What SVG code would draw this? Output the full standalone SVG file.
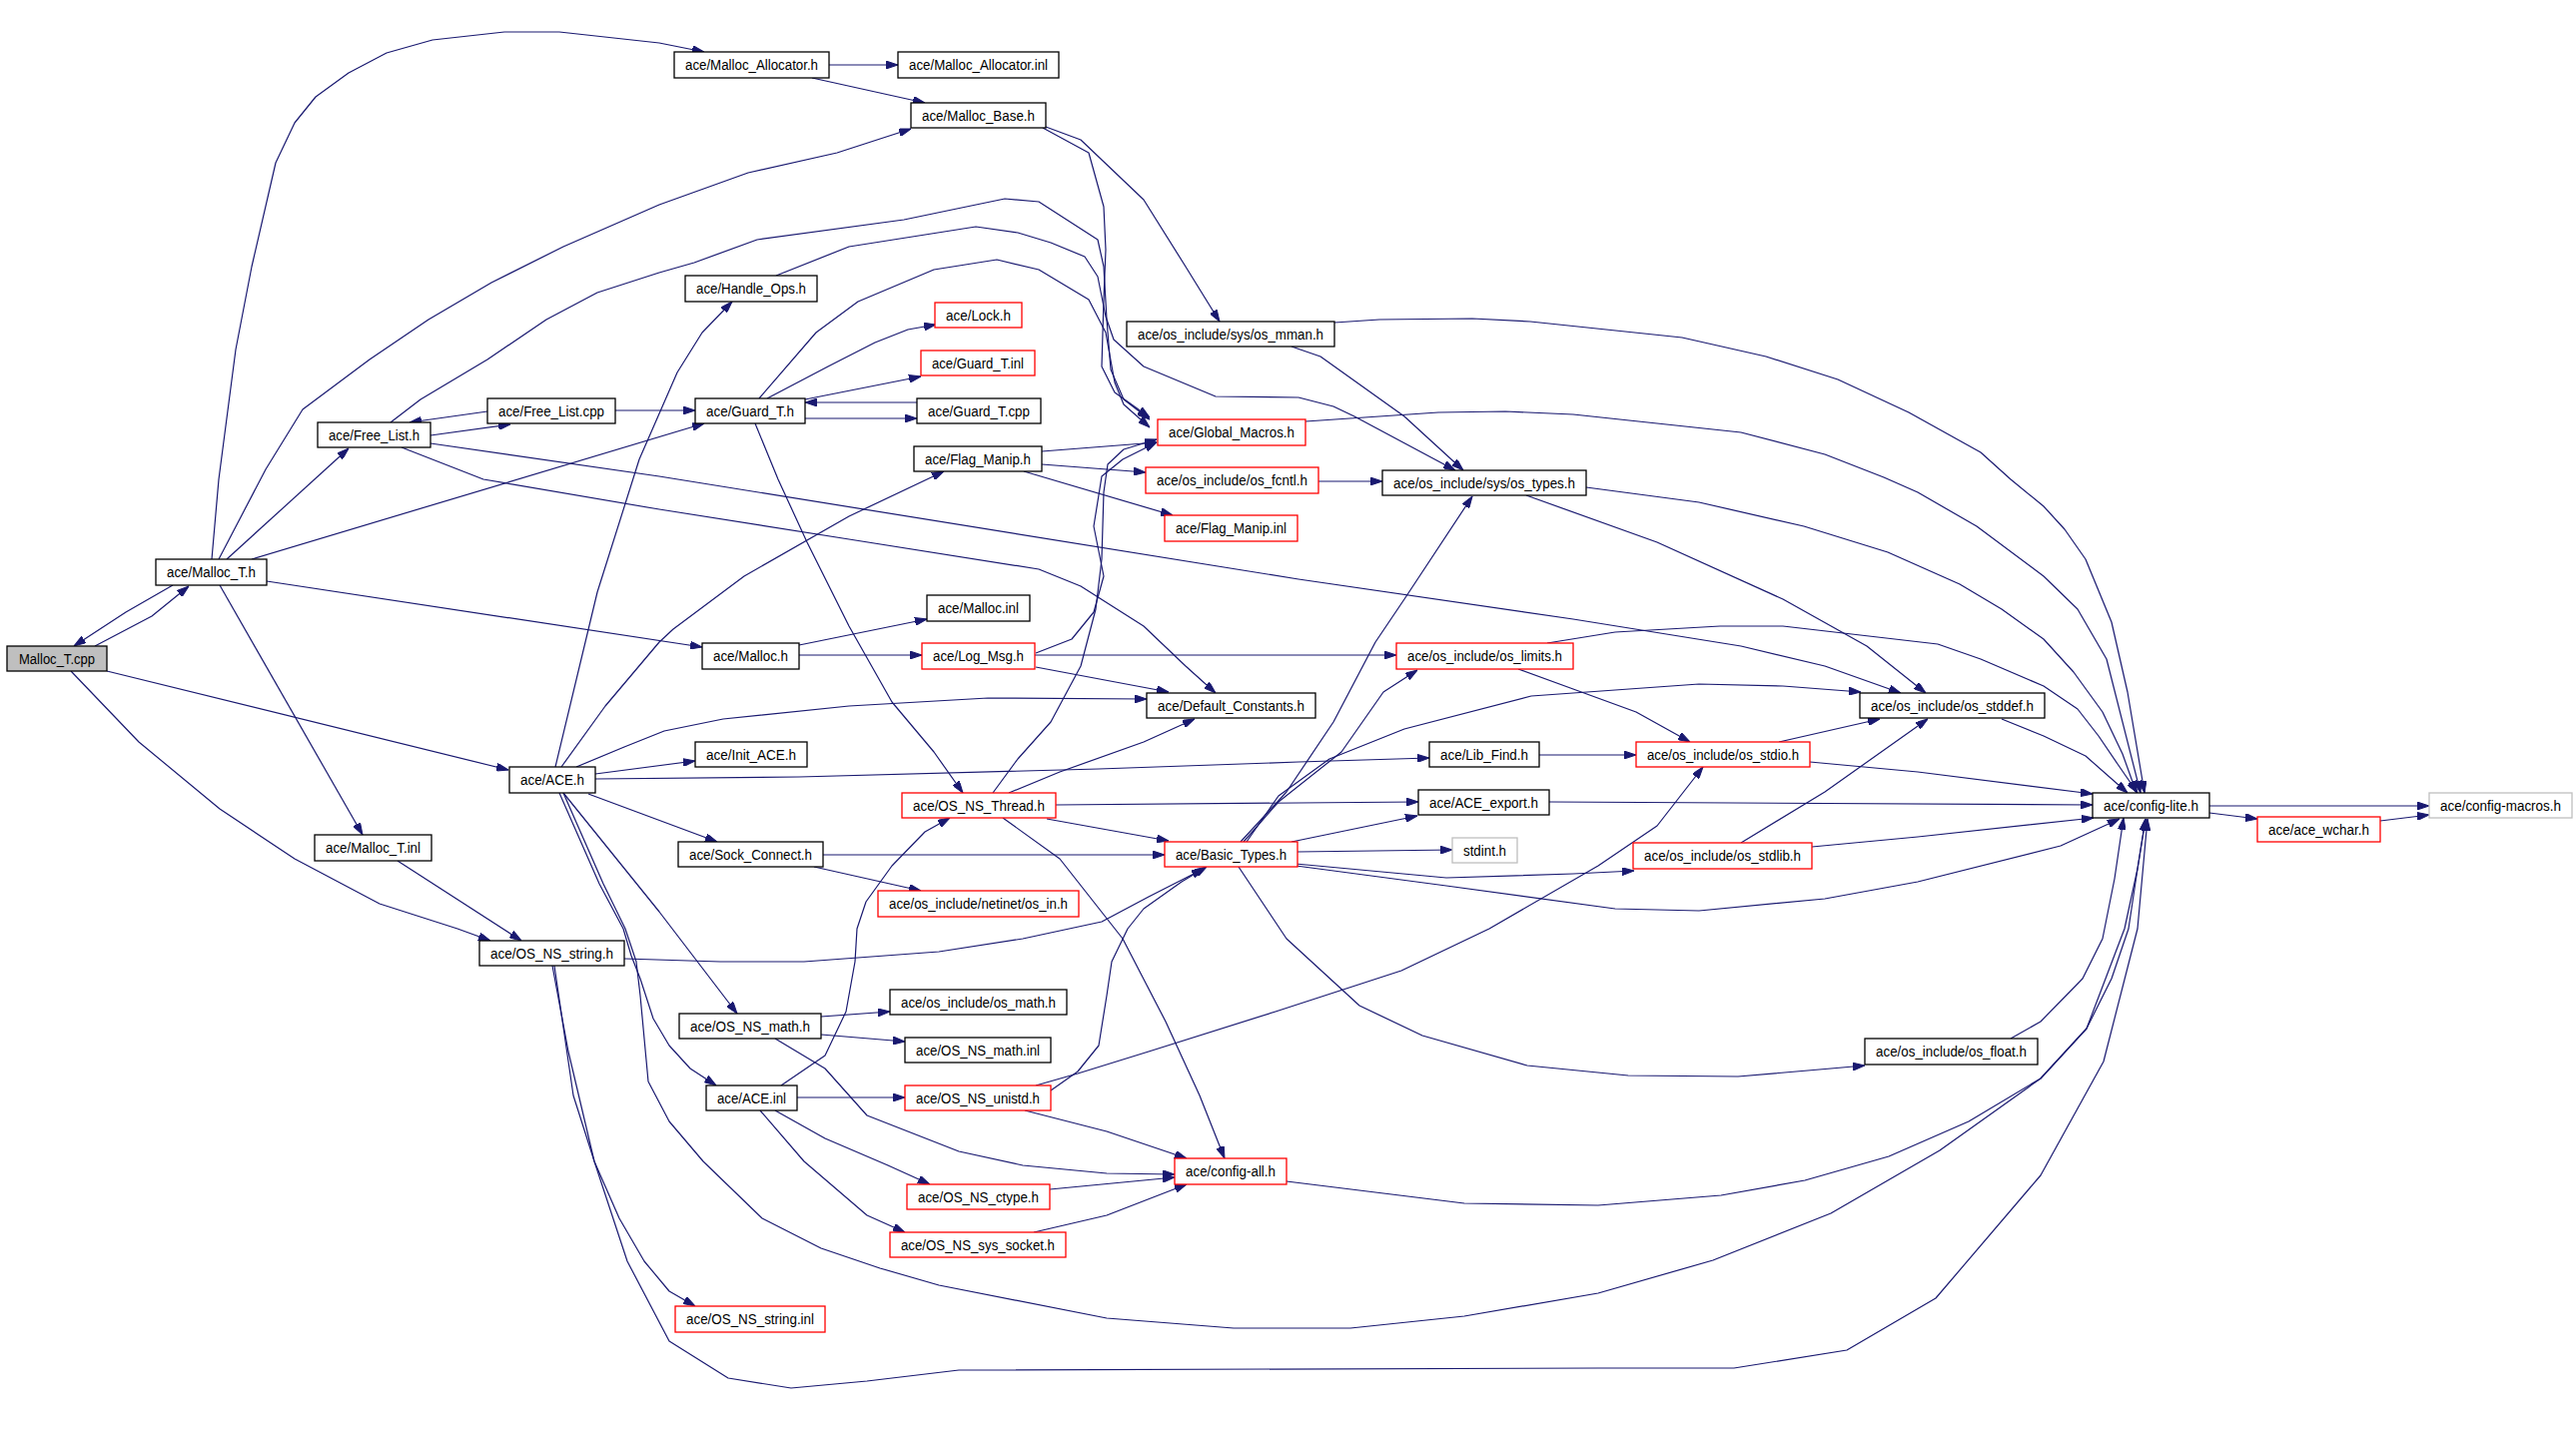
<svg xmlns="http://www.w3.org/2000/svg" width="2579" height="1435" viewBox="0 0 2579 1435">
<style>
.node rect{fill:#ffffff;stroke:#000000;stroke-width:1.3}
.node rect.red{stroke:#ff0000}
.node rect.gray{stroke:#bfbfbf}
.node rect.root{fill:#bfbfbf}
.node text{font-family:"Liberation Sans",Arial,sans-serif;font-size:14px;fill:#000000;text-anchor:middle}
#edges path{fill:none;stroke:#191970;stroke-width:1.2;stroke-linejoin:round;marker-end:url(#arr)}
</style>
<defs>
<marker id="arr" viewBox="0 0 12 8" refX="12" refY="4" markerWidth="12" markerHeight="8" markerUnits="userSpaceOnUse" orient="auto">
<path d="M0,0 L12,4 L0,8 z" fill="#191970" stroke="#191970" stroke-width="1"/>
</marker>
</defs>
<rect width="2579" height="1435" fill="#ffffff"/>
<g id="edges">
<path d="M95,647 L152,617 L189,587"/>
<path d="M173,586 L126,613 L74,647"/>
<path d="M107,672 L509,771"/>
<path d="M71,672 L139,743 L220,810 L295,860 L380,905 L458,930 L491,942"/>
<path d="M212,560 L219,480 L236,350 L252,267 L276,163 L295,123 L316,97 L349,73 L387,53 L433,40 L505,32 L560,32 L660,43 L705,52"/>
<path d="M219,560 L266,470 L303,410 L370,360 L429,320 L492,283 L564,247 L660,205 L749,173 L838,153 L912,129"/>
<path d="M227,560 L349,449"/>
<path d="M252,560 L705,424"/>
<path d="M267,582 L703,648"/>
<path d="M220,586 L363,836"/>
<path d="M830,65 L899,65"/>
<path d="M813,78 L926,103"/>
<path d="M1047,127 L1082,140 L1145,200 L1187,267 L1221,322"/>
<path d="M1044,128 L1090,153 L1105,207 L1107,250 L1105,300 L1103,367 L1116,393 L1151,418"/>
<path d="M391,423 L421,400 L488,360 L547,320 L598,293 L660,273 L695,263 L758,240 L905,220 L1006,199 L1040,202 L1099,240 L1105,267 L1108,320 L1112,370 L1125,400 L1151,420"/>
<path d="M777,276 L850,247 L977,227 L1019,233 L1052,243 L1086,257 L1099,277 L1107,317 L1115,340 L1145,367 L1217,397 L1300,398 L1335,407 L1356,417 L1457,471"/>
<path d="M760,399 L817,333 L859,302 L935,270 L998,260 L1040,270 L1090,300 L1107,333 L1116,383 L1125,405 L1151,428"/>
<path d="M756,424 L779,480 L808,543 L850,627 L893,703 L935,753 L964,794"/>
<path d="M768,399 L829,367 L876,343 L909,330 L937,325"/>
<path d="M806,400 L922,377"/>
<path d="M918,403 L806,403"/>
<path d="M806,419 L918,419"/>
<path d="M616,411 L696,411"/>
<path d="M431,436 L511,425"/>
<path d="M488,412 L410,423"/>
<path d="M556,768 L598,593 L640,460 L678,373 L703,333 L733,302"/>
<path d="M562,768 L606,707 L660,643 L674,630 L745,577 L850,517 L945,472"/>
<path d="M577,768 L625,748 L665,732 L724,720 L850,707 L989,699 L1148,700"/>
<path d="M596,775 L696,762"/>
<path d="M596,780 L800,778 L1100,770 L1300,763 L1431,759"/>
<path d="M589,795 L718,843"/>
<path d="M564,794 L660,913 L738,1015"/>
<path d="M560,794 L600,885 L624,930 L632,957 L641,980 L654,1020 L670,1047 L691,1070 L717,1087"/>
<path d="M564,794 L604,885 L626,930 L637,963 L641,997 L649,1083 L670,1123 L704,1163 L763,1220 L822,1250 L881,1270 L940,1287 L1108,1320 L1235,1330 L1352,1330 L1466,1318 L1600,1295 L1715,1262 L1833,1215 L1942,1152 L2043,1080 L2089,1030 L2127,930 L2140,870 L2148,820"/>
<path d="M398,862 L522,942"/>
<path d="M555,967 L574,1097 L595,1163 L620,1220 L645,1263 L670,1293 L696,1308"/>
<path d="M553,967 L569,1053 L595,1163 L628,1263 L670,1343 L729,1380 L792,1390 L868,1383 L960,1372 L1600,1370 L1736,1370 L1849,1352 L1938,1300 L2043,1177 L2106,1063 L2140,930 L2150,820"/>
<path d="M625,960 L721,963 L805,963 L940,953 L1024,940 L1103,923 L1150,898 L1205,870"/>
<path d="M800,646 L928,620"/>
<path d="M800,656 L923,656"/>
<path d="M1036,656 L1398,656"/>
<path d="M1037,668 L1170,693"/>
<path d="M1037,654 L1073,640 L1095,613 L1105,577 L1095,527 L1103,477 L1124,460 L1158,443"/>
<path d="M994,794 L1019,760 L1052,723 L1082,667 L1097,610 L1103,560 L1105,493 L1109,465 L1125,450 L1158,440"/>
<path d="M1010,794 L1061,773 L1145,743 L1196,720"/>
<path d="M1057,806 L1420,803"/>
<path d="M1048,820 L1170,842"/>
<path d="M1004,819 L1061,860 L1124,940 L1167,1023 L1201,1097 L1226,1160"/>
<path d="M824,856 L1166,856"/>
<path d="M815,868 L922,892"/>
<path d="M782,1087 L826,1057 L847,1013 L856,963 L858,930 L867,903 L893,867 L926,833 L951,819"/>
<path d="M798,1099 L906,1099"/>
<path d="M776,1112 L826,1140 L889,1167 L931,1186"/>
<path d="M761,1112 L805,1163 L868,1217 L906,1234"/>
<path d="M822,1018 L891,1013"/>
<path d="M822,1036 L906,1043"/>
<path d="M776,1040 L826,1070 L868,1117 L960,1153 L1024,1167 L1108,1175 L1176,1176"/>
<path d="M1026,1112 L1108,1133 L1188,1160"/>
<path d="M1052,1092 L1079,1073 L1100,1047 L1108,997 L1113,963 L1129,930 L1145,910 L1183,883 L1208,868"/>
<path d="M1037,1087 L1079,1075 L1150,1053 L1277,1013 L1403,972 L1491,930 L1600,867 L1659,827 L1705,768"/>
<path d="M1051,1191 L1176,1179"/>
<path d="M1035,1234 L1108,1217 L1188,1186"/>
<path d="M1288,1183 L1466,1205 L1600,1207 L1723,1197 L1807,1182 L1891,1158 L1971,1123 L2043,1080 L2089,1030 L2114,980 L2131,930 L2140,870 L2148,820"/>
<path d="M1293,843 L1419,817"/>
<path d="M1299,853 L1454,851"/>
<path d="M1297,865 L1448,879 L1575,875 L1636,872"/>
<path d="M1290,866 L1448,887 L1617,910 L1701,912 L1827,900 L1920,883 L2063,847 L2122,820"/>
<path d="M1242,843 L1288,793 L1335,723 L1377,643 L1406,600 L1474,497"/>
<path d="M1245,843 L1280,803 L1343,753 L1385,693 L1419,671"/>
<path d="M1248,843 L1280,797 L1331,760 L1406,730 L1533,697 L1701,685 L1785,687 L1863,693"/>
<path d="M1240,868 L1288,940 L1361,1007 L1424,1037 L1529,1067 L1630,1077 L1740,1078 L1833,1070 L1867,1067"/>
<path d="M1551,803 L2095,806"/>
<path d="M1541,756 L1638,756"/>
<path d="M1520,670 L1575,690 L1638,713 L1692,743"/>
<path d="M1549,644 L1617,633 L1722,627 L1785,627 L1940,645 L1983,660 L2046,687 L2080,710 L2101,737 L2120,765 L2140,794"/>
<path d="M1781,743 L1882,720"/>
<path d="M1812,763 L1920,773 L2095,795"/>
<path d="M1743,844 L1827,793 L1930,720"/>
<path d="M1814,848 L1920,838 L2096,819"/>
<path d="M2004,720 L2046,737 L2088,757 L2130,794"/>
<path d="M1528,496 L1659,543 L1785,600 L1869,647 L1928,694"/>
<path d="M1588,488 L1701,503 L1806,527 L1890,553 L1962,585 L2004,610 L2046,640 L2076,673 L2105,713 L2125,755 L2139,794"/>
<path d="M1320,482 L1384,482"/>
<path d="M1293,347 L1322,357 L1406,417 L1465,471"/>
<path d="M1336,323 L1381,320 L1474,319 L1532,322 L1684,338 L1768,357 L1840,380 L1911,413 L1983,453 L2013,480 L2046,507 L2067,530 L2088,560 L2114,623 L2130,693 L2147,794"/>
<path d="M1307,422 L1440,413 L1507,412 L1575,415 L1743,433 L1827,455 L1886,478 L1920,493 L1979,527 L2046,577 L2080,610 L2109,660 L2143,794"/>
<path d="M1043,465 L1147,473"/>
<path d="M1025,472 L1174,516"/>
<path d="M1043,452 L1158,443"/>
<path d="M402,448 L484,480 L660,510 L850,540 L1040,570 L1082,587 L1145,627 L1187,667 L1217,694"/>
<path d="M431,444 L660,477 L1300,580 L1575,620 L1743,647 L1827,667 L1903,694"/>
<path d="M2212,807 L2432,807"/>
<path d="M2212,814 L2260,820"/>
<path d="M2383,822 L2432,816"/>
<path d="M2013,1040 L2043,1023 L2085,980 L2105,940 L2117,880 L2126,819"/>
</g>
<g id="n_malloc_t_cpp" class="node"><rect class="root" x="7" y="647" width="100" height="25"/><text x="57" y="665" textLength="76" lengthAdjust="spacingAndGlyphs">Malloc_T.cpp</text></g>
<g id="n_malloc_t_h" class="node"><rect x="156" y="560" width="111" height="26"/><text x="211.5" y="578" textLength="89" lengthAdjust="spacingAndGlyphs">ace/Malloc_T.h</text></g>
<g id="n_malloc_allocator_h" class="node"><rect x="675" y="52" width="155" height="26"/><text x="752.5" y="70" textLength="133" lengthAdjust="spacingAndGlyphs">ace/Malloc_Allocator.h</text></g>
<g id="n_malloc_allocator_inl" class="node"><rect x="899" y="52" width="161" height="26"/><text x="979.5" y="70" textLength="139" lengthAdjust="spacingAndGlyphs">ace/Malloc_Allocator.inl</text></g>
<g id="n_malloc_base_h" class="node"><rect x="912" y="103" width="135" height="25"/><text x="979.5" y="121" textLength="113" lengthAdjust="spacingAndGlyphs">ace/Malloc_Base.h</text></g>
<g id="n_handle_ops_h" class="node"><rect x="686" y="276" width="132" height="26"/><text x="752" y="294" textLength="110" lengthAdjust="spacingAndGlyphs">ace/Handle_Ops.h</text></g>
<g id="n_lock_h" class="node"><rect class="red" x="936" y="303" width="87" height="25"/><text x="979.5" y="321" textLength="65" lengthAdjust="spacingAndGlyphs">ace/Lock.h</text></g>
<g id="n_guard_t_inl" class="node"><rect class="red" x="922" y="351" width="114" height="25"/><text x="979" y="369" textLength="92" lengthAdjust="spacingAndGlyphs">ace/Guard_T.inl</text></g>
<g id="n_guard_t_h" class="node"><rect x="696" y="399" width="110" height="25"/><text x="751" y="417" textLength="88" lengthAdjust="spacingAndGlyphs">ace/Guard_T.h</text></g>
<g id="n_guard_t_cpp" class="node"><rect x="918" y="399" width="124" height="25"/><text x="980" y="417" textLength="102" lengthAdjust="spacingAndGlyphs">ace/Guard_T.cpp</text></g>
<g id="n_global_macros_h" class="node"><rect class="red" x="1159" y="420" width="148" height="26"/><text x="1233" y="438" textLength="126" lengthAdjust="spacingAndGlyphs">ace/Global_Macros.h</text></g>
<g id="n_flag_manip_h" class="node"><rect x="915" y="447" width="128" height="25"/><text x="979" y="465" textLength="106" lengthAdjust="spacingAndGlyphs">ace/Flag_Manip.h</text></g>
<g id="n_free_list_h" class="node"><rect x="318" y="423" width="113" height="25"/><text x="374.5" y="441" textLength="91" lengthAdjust="spacingAndGlyphs">ace/Free_List.h</text></g>
<g id="n_free_list_cpp" class="node"><rect x="488" y="399" width="128" height="25"/><text x="552" y="417" textLength="106" lengthAdjust="spacingAndGlyphs">ace/Free_List.cpp</text></g>
<g id="n_os_mman_h" class="node"><rect x="1128" y="322" width="208" height="25"/><text x="1232" y="340" textLength="186" lengthAdjust="spacingAndGlyphs">ace/os_include/sys/os_mman.h</text></g>
<g id="n_os_types_h" class="node"><rect x="1384" y="471" width="204" height="25"/><text x="1486" y="489" textLength="182" lengthAdjust="spacingAndGlyphs">ace/os_include/sys/os_types.h</text></g>
<g id="n_os_fcntl_h" class="node"><rect class="red" x="1147" y="468" width="173" height="26"/><text x="1233.5" y="486" textLength="151" lengthAdjust="spacingAndGlyphs">ace/os_include/os_fcntl.h</text></g>
<g id="n_flag_manip_inl" class="node"><rect class="red" x="1166" y="516" width="133" height="26"/><text x="1232.5" y="534" textLength="111" lengthAdjust="spacingAndGlyphs">ace/Flag_Manip.inl</text></g>
<g id="n_malloc_inl" class="node"><rect x="928" y="596" width="103" height="26"/><text x="979.5" y="614" textLength="81" lengthAdjust="spacingAndGlyphs">ace/Malloc.inl</text></g>
<g id="n_malloc_h" class="node"><rect x="703" y="644" width="97" height="26"/><text x="751.5" y="662" textLength="75" lengthAdjust="spacingAndGlyphs">ace/Malloc.h</text></g>
<g id="n_log_msg_h" class="node"><rect class="red" x="923" y="644" width="113" height="26"/><text x="979.5" y="662" textLength="91" lengthAdjust="spacingAndGlyphs">ace/Log_Msg.h</text></g>
<g id="n_os_limits_h" class="node"><rect class="red" x="1398" y="644" width="177" height="26"/><text x="1486.5" y="662" textLength="155" lengthAdjust="spacingAndGlyphs">ace/os_include/os_limits.h</text></g>
<g id="n_default_constants_h" class="node"><rect x="1148" y="694" width="169" height="25"/><text x="1232.5" y="712" textLength="147" lengthAdjust="spacingAndGlyphs">ace/Default_Constants.h</text></g>
<g id="n_os_stddef_h" class="node"><rect x="1862" y="694" width="185" height="25"/><text x="1954.5" y="712" textLength="163" lengthAdjust="spacingAndGlyphs">ace/os_include/os_stddef.h</text></g>
<g id="n_init_ace_h" class="node"><rect x="696" y="743" width="112" height="25"/><text x="752" y="761" textLength="90" lengthAdjust="spacingAndGlyphs">ace/Init_ACE.h</text></g>
<g id="n_ace_h" class="node"><rect x="510" y="768" width="86" height="26"/><text x="553" y="786" textLength="64" lengthAdjust="spacingAndGlyphs">ace/ACE.h</text></g>
<g id="n_lib_find_h" class="node"><rect x="1431" y="743" width="110" height="25"/><text x="1486" y="761" textLength="88" lengthAdjust="spacingAndGlyphs">ace/Lib_Find.h</text></g>
<g id="n_os_stdio_h" class="node"><rect class="red" x="1638" y="743" width="174" height="25"/><text x="1725" y="761" textLength="152" lengthAdjust="spacingAndGlyphs">ace/os_include/os_stdio.h</text></g>
<g id="n_os_ns_thread_h" class="node"><rect class="red" x="903" y="794" width="154" height="25"/><text x="980" y="812" textLength="132" lengthAdjust="spacingAndGlyphs">ace/OS_NS_Thread.h</text></g>
<g id="n_ace_export_h" class="node"><rect x="1420" y="791" width="131" height="25"/><text x="1485.5" y="809" textLength="109" lengthAdjust="spacingAndGlyphs">ace/ACE_export.h</text></g>
<g id="n_config_lite_h" class="node"><rect x="2095" y="794" width="117" height="25"/><text x="2153.5" y="812" textLength="95" lengthAdjust="spacingAndGlyphs">ace/config-lite.h</text></g>
<g id="n_config_macros_h" class="node"><rect class="gray" x="2432" y="794" width="143" height="25"/><text x="2503.5" y="812" textLength="121" lengthAdjust="spacingAndGlyphs">ace/config-macros.h</text></g>
<g id="n_ace_wchar_h" class="node"><rect class="red" x="2260" y="818" width="123" height="25"/><text x="2321.5" y="836" textLength="101" lengthAdjust="spacingAndGlyphs">ace/ace_wchar.h</text></g>
<g id="n_sock_connect_h" class="node"><rect x="679" y="843" width="145" height="25"/><text x="751.5" y="861" textLength="123" lengthAdjust="spacingAndGlyphs">ace/Sock_Connect.h</text></g>
<g id="n_basic_types_h" class="node"><rect class="red" x="1166" y="843" width="133" height="25"/><text x="1232.5" y="861" textLength="111" lengthAdjust="spacingAndGlyphs">ace/Basic_Types.h</text></g>
<g id="n_stdint_h" class="node"><rect class="gray" x="1454" y="839" width="65" height="25"/><text x="1486.5" y="857" textLength="43" lengthAdjust="spacingAndGlyphs">stdint.h</text></g>
<g id="n_os_stdlib_h" class="node"><rect class="red" x="1635" y="844" width="179" height="26"/><text x="1724.5" y="862" textLength="157" lengthAdjust="spacingAndGlyphs">ace/os_include/os_stdlib.h</text></g>
<g id="n_malloc_t_inl" class="node"><rect x="315" y="836" width="117" height="26"/><text x="373.5" y="854" textLength="95" lengthAdjust="spacingAndGlyphs">ace/Malloc_T.inl</text></g>
<g id="n_os_in_h" class="node"><rect class="red" x="879" y="892" width="201" height="26"/><text x="979.5" y="910" textLength="179" lengthAdjust="spacingAndGlyphs">ace/os_include/netinet/os_in.h</text></g>
<g id="n_os_ns_string_h" class="node"><rect x="480" y="942" width="145" height="25"/><text x="552.5" y="960" textLength="123" lengthAdjust="spacingAndGlyphs">ace/OS_NS_string.h</text></g>
<g id="n_os_math_h" class="node"><rect x="891" y="991" width="177" height="25"/><text x="979.5" y="1009" textLength="155" lengthAdjust="spacingAndGlyphs">ace/os_include/os_math.h</text></g>
<g id="n_os_ns_math_h" class="node"><rect x="680" y="1015" width="142" height="25"/><text x="751" y="1033" textLength="120" lengthAdjust="spacingAndGlyphs">ace/OS_NS_math.h</text></g>
<g id="n_os_ns_math_inl" class="node"><rect x="906" y="1039" width="146" height="25"/><text x="979" y="1057" textLength="124" lengthAdjust="spacingAndGlyphs">ace/OS_NS_math.inl</text></g>
<g id="n_os_float_h" class="node"><rect x="1867" y="1040" width="173" height="26"/><text x="1953.5" y="1058" textLength="151" lengthAdjust="spacingAndGlyphs">ace/os_include/os_float.h</text></g>
<g id="n_ace_inl" class="node"><rect x="707" y="1087" width="91" height="25"/><text x="752.5" y="1105" textLength="69" lengthAdjust="spacingAndGlyphs">ace/ACE.inl</text></g>
<g id="n_os_ns_unistd_h" class="node"><rect class="red" x="906" y="1087" width="146" height="25"/><text x="979" y="1105" textLength="124" lengthAdjust="spacingAndGlyphs">ace/OS_NS_unistd.h</text></g>
<g id="n_config_all_h" class="node"><rect class="red" x="1176" y="1160" width="112" height="26"/><text x="1232" y="1178" textLength="90" lengthAdjust="spacingAndGlyphs">ace/config-all.h</text></g>
<g id="n_os_ns_ctype_h" class="node"><rect class="red" x="908" y="1186" width="143" height="25"/><text x="979.5" y="1204" textLength="121" lengthAdjust="spacingAndGlyphs">ace/OS_NS_ctype.h</text></g>
<g id="n_os_ns_sys_socket_h" class="node"><rect class="red" x="891" y="1234" width="176" height="25"/><text x="979" y="1252" textLength="154" lengthAdjust="spacingAndGlyphs">ace/OS_NS_sys_socket.h</text></g>
<g id="n_os_ns_string_inl" class="node"><rect class="red" x="676" y="1308" width="150" height="26"/><text x="751" y="1326" textLength="128" lengthAdjust="spacingAndGlyphs">ace/OS_NS_string.inl</text></g>
</svg>
